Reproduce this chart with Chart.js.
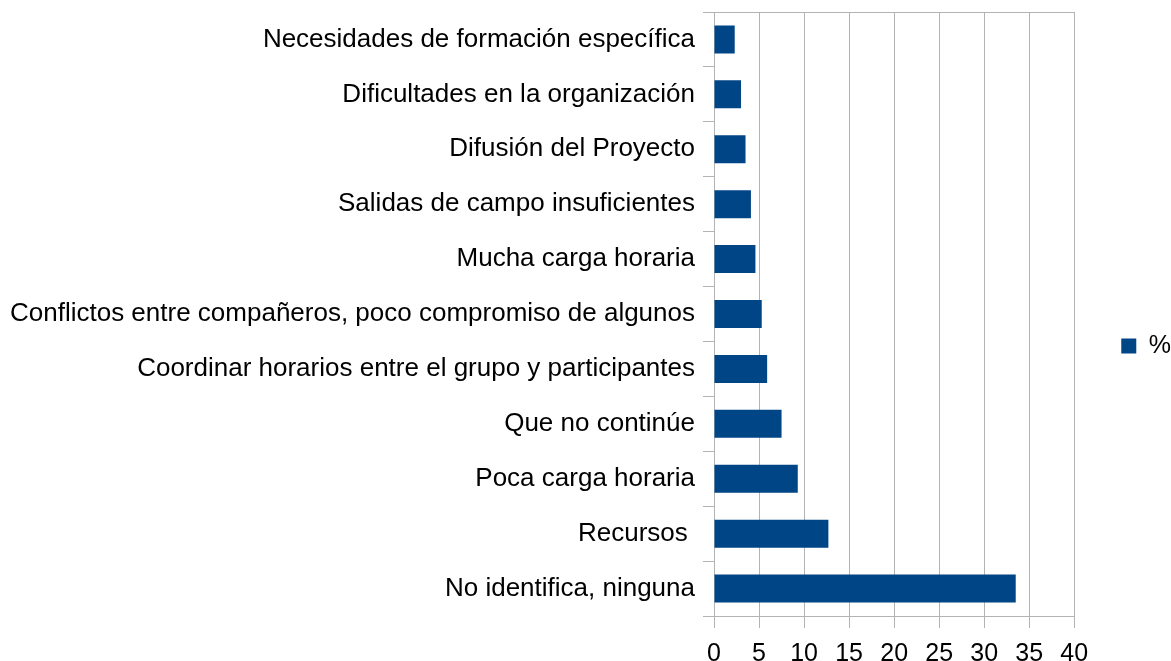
<!DOCTYPE html>
<html>
<head>
<meta charset="utf-8">
<script src="https://cdn.jsdelivr.net/npm/chart.js@4"></script>
<style>
    html, body { margin: 0; padding: 0; background: #fff; }
    #grafico_wrap { width: 1171px; height: 661px; }
</style>
</head>
<body>
<div id="grafico_wrap"><canvas id="grafico"></canvas></div>
<script>
// categorias (de arriba hacia abajo)
const categorias = [
    "Necesidades de formación específica",
    "Dificultades en la organización",
    "Difusión del Proyecto",
    "Salidas de campo insuficientes",
    "Mucha carga horaria",
    "Conflictos entre compañeros, poco compromiso de algunos",
    "Coordinar horarios entre el grupo y participantes",
    "Que no continúe",
    "Poca carga horaria",
    "Recursos ",
    "No identifica, ninguna"
]
const porcentajes = [2.3, 3.0, 3.5, 4.1, 4.6, 5.3, 5.9, 7.5, 9.3, 12.7, 33.5]
const nombreSerie = "%"
const ejeMin = 0
const ejeMax = 40
const ejePaso = 5

const colorBarra = "#004586"
const colorGrilla = "#b3b3b3"
const fuente = "'Liberation Sans', Arial, sans-serif"

// borde izquierdo del area del grafico en pixeles
const areaIzq = 714

// linea superior del area del grafico
const bordeSuperior = {
    id: "bordeSuperior",
    afterDraw(chart) {
        const { ctx, chartArea } = chart
        ctx.save()
        ctx.strokeStyle = colorGrilla
        ctx.lineWidth = 1
        ctx.beginPath()
        ctx.moveTo(chartArea.left, chartArea.top + 0.5)
        ctx.lineTo(chartArea.right, chartArea.top + 0.5)
        ctx.stroke()
        ctx.restore()
    }
}

const grafico = document.getElementById("grafico")
const padIzq = 8

new Chart(grafico, {
    type: "bar",
    data: {
        labels: categorias,
        datasets: [{
            label: nombreSerie,
            data: porcentajes,
            backgroundColor: colorBarra,
            borderWidth: 0,
            barPercentage: 0.51,
            categoryPercentage: 1
        }]
    },
    options: {
        indexAxis: "y",
        responsive: true,
        maintainAspectRatio: false,
        animation: false,
        layout: {
            padding: { top: 12, right: -10, bottom: -19, left: padIzq }
        },
        scales: {
            x: {
                min: ejeMin,
                max: ejeMax,
                ticks: {
                    stepSize: ejePaso,
                    color: "#000",
                    padding: 11,
                    font: { family: fuente, size: 25 }
                },
                grid: {
                    color: colorGrilla,
                    tickLength: 12,
                    drawOnChartArea: true
                },
                border: { color: colorGrilla }
            },
            y: {
                ticks: {
                    color: "#000",
                    padding: 8,
                    font: { family: fuente, size: 26 }
                },
                grid: {
                    color: colorGrilla,
                    offset: true,
                    tickLength: 11,
                    drawOnChartArea: false
                },
                border: { color: colorGrilla },
                afterFit(scale) {
                    scale.width = areaIzq - padIzq
                    scale.paddingTop = 0
                    scale.paddingBottom = 0
                }
            }
        },
        plugins: {
            legend: {
                position: "right",
                labels: {
                    boxWidth: 15,
                    boxHeight: 15,
                    color: "#000",
                    padding: 47,
                    font: { family: fuente, size: 25 }
                }
            },
            tooltip: { enabled: false }
        }
    },
    plugins: [bordeSuperior]
})
</script>
</body>
</html>
